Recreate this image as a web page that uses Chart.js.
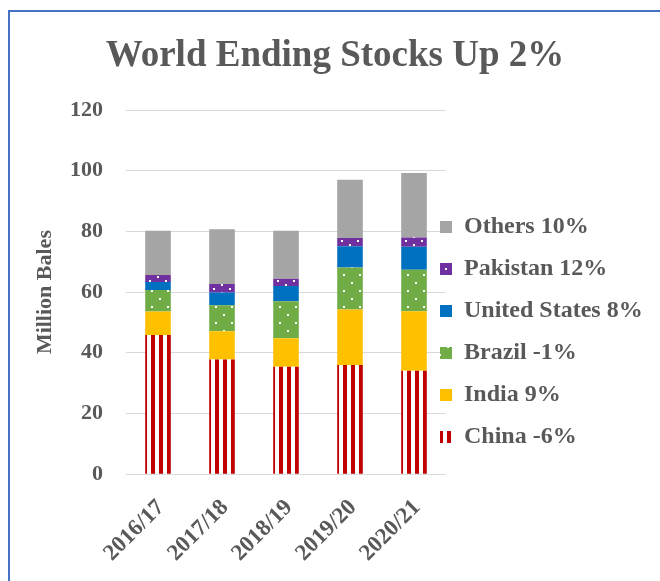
<!DOCTYPE html>
<html>
<head>
<meta charset="utf-8">
<script src="https://cdn.jsdelivr.net/npm/chart.js@4/dist/chart.umd.min.js"></script>
<style>
  html, body { margin: 0; padding: 0; background: #fff; overflow: hidden; }
  #wrap { position: relative; width: 660px; height: 581px; }
  #frame { position: absolute; left: 8px; top: 10px; width: 700px; height: 700px;
           border-left: 2px solid #4472C4; border-top: 2px solid #4472C4; box-sizing: border-box; }
  canvas { position: absolute; left: 0; top: 0; }
</style>
</head>
<body>
<div id="wrap">
  <div id="frame"></div>
  <canvas id="c" width="660" height="581"></canvas>
</div>
<script>
// ---- data ----
const categories = ['2016/17', '2017/18', '2018/19', '2019/20', '2020/21'];
const china     = [45.9, 37.8, 35.4, 36.0, 34.1];
const india     = [7.7, 9.3, 9.4, 18.3, 19.6];
const brazil    = [7.1, 8.6, 12.2, 13.8, 13.7];
const us        = [2.6, 4.2, 5.0, 7.0, 7.5];
const pakistan  = [2.3, 2.8, 2.4, 2.7, 3.1];
const others    = [14.6, 18.0, 15.8, 19.2, 21.2];
const seriesLabels = ['China -6%', 'India 9%', 'Brazil -1%', 'United States 8%', 'Pakistan 12%', 'Others 10%'];
const yTicks = [0, 20, 40, 60, 80, 100, 120];
const titleText = 'World Ending Stocks Up 2%';
const yTitle = 'Million Bales';

// ---- patterns ----
function makePattern(w, h, bg, draw) {
  const c = document.createElement('canvas');
  c.width = w; c.height = h;
  const g = c.getContext('2d');
  g.fillStyle = bg; g.fillRect(0, 0, w, h);
  draw(g);
  return document.getElementById('c').getContext('2d').createPattern(c, 'repeat');
}
const chinaFill = makePattern(8, 8, '#FFFFFF', g => {
  g.fillStyle = '#C00000';
  g.fillRect(0, 0, 3, 8); g.fillRect(7, 0, 1, 8);
});
const brazilFill = makePattern(16, 16, '#70AD47', g => {
  g.fillStyle = '#FFFFFF';
  g.fillRect(7, 2, 2, 2); g.fillRect(15, 10, 1, 2); g.fillRect(0, 10, 1, 2);
});
const pakFill = makePattern(16, 8, '#7030A0', g => {
  g.fillStyle = '#FFFFFF';
  g.fillRect(5, 0, 2, 2); g.fillRect(13, 4, 2, 2);
});

const FONT = "'Liberation Serif', 'Times New Roman', serif";
const TXT = '#595959';
const LEGEND_BOX_X = 440;
const LEGEND_FIRST_CENTER_Y = 227;

// place the legend column where the original has it (slightly overlapping the plot's right edge)
const legendPlace = {
  id: 'legendPlace',
  afterLayout(chart) {
    const l = chart.legend;
    if (!l) return;
    const lab = l.options.labels;
    const pad = lab.padding, fs = lab.font.size;
    const h = l.bottom - l.top;
    l.left = LEGEND_BOX_X - pad; l.right = chart.width;
    l.top = LEGEND_FIRST_CENTER_Y - fs / 2 - pad; l.bottom = l.top + Math.max(h, 300);
    l.width = l.right - l.left; l.height = l.bottom - l.top;
  }
};

new Chart(document.getElementById('c'), {
  type: 'bar',
  data: {
    labels: categories,
    datasets: [
      { label: seriesLabels[0], data: china,    backgroundColor: chinaFill },
      { label: seriesLabels[1], data: india,    backgroundColor: '#FFC000' },
      { label: seriesLabels[2], data: brazil,   backgroundColor: brazilFill },
      { label: seriesLabels[3], data: us,       backgroundColor: '#0070C0' },
      { label: seriesLabels[4], data: pakistan, backgroundColor: pakFill },
      { label: seriesLabels[5], data: others,   backgroundColor: '#A5A5A5' }
    ]
  },
  options: {
    responsive: false,
    animation: false,
    layout: { padding: { left: 10, right: 0, top: 0, bottom: 14 } },
    datasets: { bar: { barPercentage: 0.4, categoryPercentage: 1.0, borderWidth: 0 } },
    plugins: {
      title: {
        display: true, text: titleText, color: TXT,
        font: { family: FONT, size: 37, weight: 'bold' },
        padding: { top: 34, bottom: 31.6 }
      },
      legend: {
        position: 'right', align: 'start', reverse: true, maxWidth: 214,
        labels: {
          color: TXT, boxWidth: 12, boxHeight: 12, padding: 18,
          font: { family: FONT, size: 24, weight: 'bold' }
        }
      },
      tooltip: { enabled: false }
    },
    scales: {
      x: {
        stacked: true,
        grid: { display: false, drawTicks: true, tickLength: 20 },
        border: { display: false },
        ticks: {
          color: TXT, minRotation: 45, maxRotation: 45, padding: 0, labelOffset: 3,
          font: { family: FONT, size: 23, weight: 'bold' }
        }
      },
      y: {
        stacked: true, min: 0, max: 120,
        afterBuildTicks(axis) { axis.ticks = yTicks.map(v => ({ value: v })); },
        grid: { color: '#D9D9D9', lineWidth: 1, drawTicks: true, tickLength: 20, tickColor: 'rgba(0,0,0,0)' },
        border: { display: false },
        ticks: {
          color: TXT, padding: 3,
          font: { family: FONT, size: 22, weight: 'bold' }
        },
        title: {
          display: true, text: yTitle, color: TXT,
          font: { family: FONT, size: 22, weight: 'bold' },
          padding: { top: 21.8, bottom: 8.8 }
        }
      }
    }
  },
  plugins: [legendPlace]
});
</script>
</body>
</html>
